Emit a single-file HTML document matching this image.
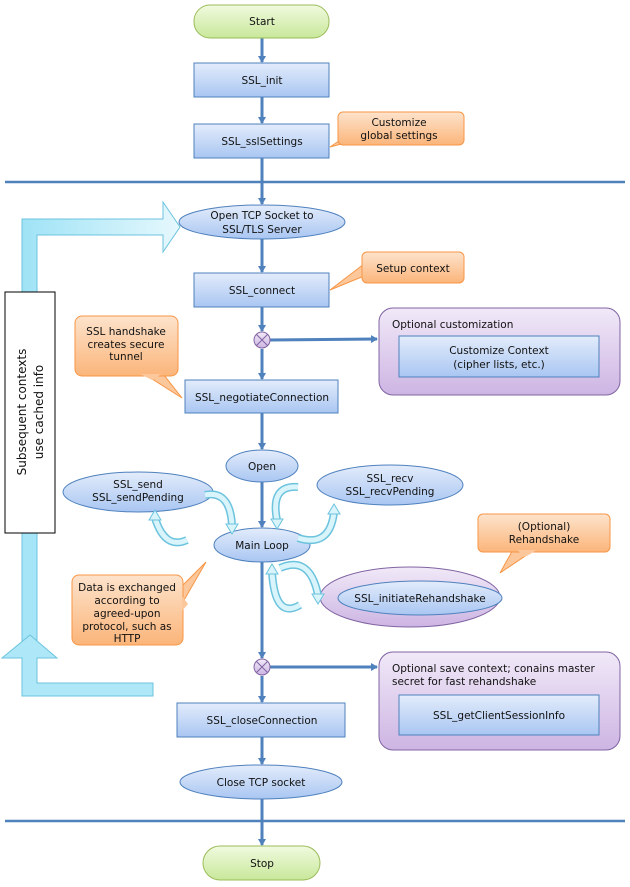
<!DOCTYPE html>
<html><head><meta charset="utf-8"><style>
html,body{margin:0;padding:0;background:#fff;}
svg{display:block;}
text{font-family:"DejaVu Sans","Liberation Sans",sans-serif;font-size:10.5px;fill:#111;text-anchor:middle;}
</style></head><body>
<svg width="630" height="887" viewBox="0 0 630 887" xmlns="http://www.w3.org/2000/svg">
<defs>
<linearGradient id="bl" x1="0" y1="0" x2="0" y2="1"><stop offset="0" stop-color="#e3ecfb"/><stop offset="1" stop-color="#a9c6f2"/></linearGradient>
<linearGradient id="gr" x1="0" y1="0" x2="0" y2="1"><stop offset="0" stop-color="#f1fadf"/><stop offset="1" stop-color="#c8e89a"/></linearGradient>
<linearGradient id="or" x1="0" y1="0" x2="0" y2="1"><stop offset="0" stop-color="#fde3cc"/><stop offset="1" stop-color="#fbb57a"/></linearGradient>
<linearGradient id="pu" x1="0" y1="0" x2="0" y2="1"><stop offset="0" stop-color="#f1e9f8"/><stop offset="1" stop-color="#cdb5e3"/></linearGradient>
<linearGradient id="cy" x1="0" y1="0" x2="1" y2="0"><stop offset="0" stop-color="#9fe3f6"/><stop offset="1" stop-color="#e6f8fd"/></linearGradient>
<linearGradient id="cy2" x1="0" y1="0" x2="0" y2="1"><stop offset="0" stop-color="#e6f8fd"/><stop offset="1" stop-color="#9fe3f6"/></linearGradient>
<marker id="ar" markerWidth="8" markerHeight="8" refX="6" refY="4" orient="auto" markerUnits="userSpaceOnUse"><path d="M0,0 L7,4 L0,8 z" fill="#4f81bd"/></marker>
</defs>

<line x1="5" y1="182" x2="625" y2="182" stroke="#4f81bd" stroke-width="2.5"/>
<line x1="5" y1="821" x2="625" y2="821" stroke="#4f81bd" stroke-width="2.5"/>

<!-- cyan big arrows -->
<path d="M22,292 L22,219 L163,219 L163,202 L180,227 L163,252 L163,235 L37,235 L37,292 Z" fill="url(#cy)" stroke="#6cc3de" stroke-width="1"/>
<rect x="22" y="533" width="15" height="130" fill="#a6e5f7" stroke="#6cc3de"/>
<path d="M22,696 L22,658 L2,658 L30,635 L57,658 L37,658 L37,683 L153,683 L153,696 Z" fill="#aee7f7" stroke="#6cc3de" stroke-width="1"/>
<rect x="22.5" y="655" width="14" height="10" fill="#aee7f7"/>

<rect x="5" y="292" width="50" height="241" fill="#fff" stroke="#000" stroke-width="1"/>
<text transform="translate(26,412) rotate(-90)" style="font-size:12px">Subsequent contexts</text>
<text transform="translate(43,412) rotate(-90)" style="font-size:12px">use cached info</text>

<g stroke="#4f81bd" stroke-width="3" fill="none" marker-end="url(#ar)">
<line x1="262" y1="37" x2="262" y2="62"/>
<line x1="262" y1="97" x2="262" y2="123"/>
<line x1="262" y1="158" x2="262" y2="204"/>
<line x1="262" y1="239" x2="262" y2="272"/>
<line x1="262" y1="307" x2="262" y2="331"/>
<line x1="262" y1="349" x2="262" y2="379"/>
<line x1="262" y1="413" x2="262" y2="449"/>
<line x1="262" y1="482" x2="262" y2="527"/>
<line x1="262" y1="562" x2="262" y2="658"/>
<line x1="262" y1="676" x2="262" y2="702"/>
<line x1="262" y1="737" x2="262" y2="764"/>
<line x1="262" y1="799" x2="262" y2="845"/>
<line x1="270" y1="340" x2="377" y2="339"/>
<line x1="270" y1="667" x2="377" y2="667"/>
</g>

<rect x="194" y="5" width="135" height="33" rx="16" fill="url(#gr)" stroke="#9bbb59"/>
<text x="262" y="25">Start</text>
<rect x="203" y="846" width="117" height="34" rx="17" fill="url(#gr)" stroke="#9bbb59"/>
<text x="262" y="867">Stop</text>

<g fill="url(#bl)" stroke="#4f81bd">
<rect x="194" y="63" width="135" height="34"/>
<rect x="194" y="124" width="135" height="34"/>
<rect x="194" y="273" width="135" height="34"/>
<rect x="185" y="380" width="153" height="33"/>
<rect x="177" y="703" width="168" height="34"/>
</g>
<text x="262" y="84">SSL_init</text>
<text x="262" y="145">SSL_sslSettings</text>
<text x="262" y="294">SSL_connect</text>
<text x="262" y="401">SSL_negotiateConnection</text>
<text x="262" y="724">SSL_closeConnection</text>

<g fill="url(#bl)" stroke="#4f81bd">
<ellipse cx="262" cy="222" rx="83" ry="17"/>
<ellipse cx="262" cy="466" rx="36" ry="16"/>
<ellipse cx="138" cy="492" rx="75" ry="20"/>
<ellipse cx="390" cy="485" rx="73" ry="20"/>
<ellipse cx="262" cy="545" rx="48" ry="17"/>
<ellipse cx="261" cy="782" rx="81" ry="17"/>
</g>
<text x="262" y="219">Open TCP Socket to</text>
<text x="262" y="233">SSL/TLS Server</text>
<text x="262" y="470">Open</text>
<text x="138" y="488">SSL_send</text>
<text x="138" y="501">SSL_sendPending</text>
<text x="390" y="482">SSL_recv</text>
<text x="390" y="495">SSL_recvPending</text>
<text x="262" y="549">Main Loop</text>
<text x="261" y="786">Close TCP socket</text>

<ellipse cx="410" cy="597" rx="90" ry="30" fill="url(#pu)" stroke="#8064a2"/>
<ellipse cx="420" cy="598" rx="82" ry="17" fill="url(#bl)" stroke="#4f81bd"/>
<text x="420" y="602">SSL_initiateRehandshake</text>

<g fill="none" stroke-linecap="butt">
<g stroke="#6cc3de" stroke-width="8">
<path d="M205,495 Q230,490 232,525"/>
<path d="M187,540 Q165,550 155,518"/>
<path d="M298,487 Q270,485 277,520"/>
<path d="M298,538 Q330,548 334,512"/>
<path d="M280,568 Q310,555 318,595"/>
<path d="M300,605 Q275,620 272,572"/>
</g>
<g stroke="#d9f4fb" stroke-width="5">
<path d="M205,495 Q230,490 232,525"/>
<path d="M187,540 Q165,550 155,518"/>
<path d="M298,487 Q270,485 277,520"/>
<path d="M298,538 Q330,548 334,512"/>
<path d="M280,568 Q310,555 318,595"/>
<path d="M300,605 Q275,620 272,572"/>
</g>
</g>
<g fill="#d9f4fb" stroke="#6cc3de">
<path d="M226,524 L238,524 L232,534 Z"/>
<path d="M149,520 L161,520 L155,510 Z"/>
<path d="M271,519 L283,519 L277,529 Z"/>
<path d="M328,514 L340,514 L334,504 Z"/>
<path d="M312,594 L324,594 L318,604 Z"/>
<path d="M266,574 L278,574 L272,564 Z"/>
</g>

<g fill="url(#pu)" stroke="#8064a2">
<circle cx="262" cy="340" r="8"/>
<circle cx="262" cy="667" r="8"/>
</g>
<g stroke="#8064a2" stroke-width="1">
<path d="M256.5,334.5 L267.5,345.5 M267.5,334.5 L256.5,345.5"/>
<path d="M256.5,661.5 L267.5,672.5 M267.5,661.5 L256.5,672.5"/>
</g>

<rect x="379" y="308" width="241" height="87" rx="14" fill="url(#pu)" stroke="#8064a2"/>
<text x="392" y="328" style="text-anchor:start">Optional customization</text>
<rect x="399" y="336" width="200" height="41" fill="url(#bl)" stroke="#4f81bd"/>
<text x="499" y="354">Customize Context</text>
<text x="499" y="368">(cipher lists, etc.)</text>

<rect x="379" y="652" width="241" height="98" rx="14" fill="url(#pu)" stroke="#8064a2"/>
<text x="392" y="672" style="text-anchor:start">Optional save context; conains master</text>
<text x="392" y="685" style="text-anchor:start">secret for fast rehandshake</text>
<rect x="399" y="695" width="200" height="40" fill="url(#bl)" stroke="#4f81bd"/>
<text x="499" y="719">SSL_getClientSessionInfo</text>

<!-- callouts: tail (stroked), box, tail cover -->
<g fill="#fcc79a" stroke="#f79646">
<path d="M364,124 L330,147 L364,138 Z"/>
<path d="M364,264 L330,290 L364,276 Z"/>
<path d="M138,370 L182,398 L160,370 Z"/>
<path d="M176,592 L206,562 L176,614 Z"/>
<path d="M515,546 L500,573 L540,546 Z"/>
</g>
<g fill="url(#or)" stroke="#f79646">
<rect x="338" y="112" width="126" height="33" rx="5"/>
<rect x="362" y="252" width="102" height="31" rx="5"/>
<rect x="75" y="316" width="103" height="60" rx="7"/>
<rect x="72" y="575" width="111" height="70" rx="7"/>
<rect x="478" y="514" width="132" height="38" rx="5"/>
</g>
<g fill="#fcc79a">
<path d="M337,125 L337,137 L365,137 L365,125 Z" fill="none"/>
<path d="M140,374 L162,374 L152,380 Z"/>
<path d="M182,596 L182,611 L188,604 Z"/>
<path d="M517,550 L537,550 L525,557 Z"/>
</g>
<text x="399" y="126">Customize</text>
<text x="399" y="139">global settings</text>
<text x="413" y="272">Setup context</text>
<text x="126" y="335">SSL handshake</text>
<text x="126" y="348">creates secure</text>
<text x="126" y="360">tunnel</text>
<text x="127" y="591">Data is exchanged</text>
<text x="127" y="604">according to</text>
<text x="127" y="617">agreed-upon</text>
<text x="127" y="630">protocol, such as</text>
<text x="127" y="642">HTTP</text>
<text x="544" y="530">(Optional)</text>
<text x="544" y="543">Rehandshake</text>
</svg>
</body></html>
